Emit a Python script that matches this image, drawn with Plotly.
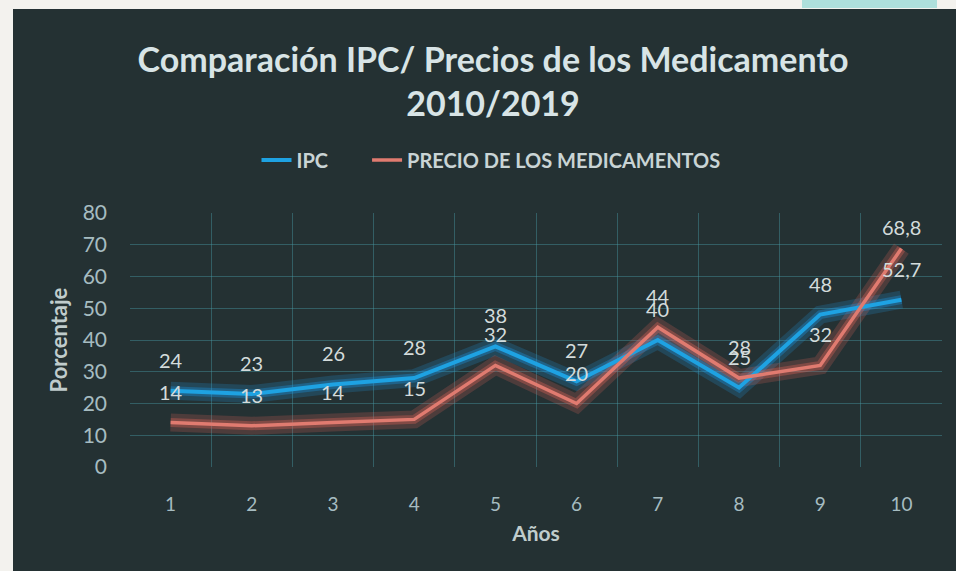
import plotly.graph_objects as go

# ---- data ----
years = [1, 2, 3, 4, 5, 6, 7, 8, 9, 10]
ipc = [24, 23, 26, 28, 38, 27, 40, 25, 48, 52.7]
precio = [14, 13, 14, 15, 32, 20, 44, 28, 32, 68.8]
y_ticks = [0, 10, 20, 30, 40, 50, 60, 70, 80]

title_text = "Comparación IPC/ Precios de los Medicamento<br>2010/2019"
name_ipc = "IPC"
name_precio = "PRECIO DE LOS MEDICAMENTOS"

# ---- layout geometry (pixels) ----
W, H = 956, 571
L, R, T, B = 130, 14, 213, 104
PW, PH = W - L - R, H - T - B


def px_x(p):
    return (p - L) / PW


def px_y(p):
    return (H - B - p) / PH


def fmt(v):
    s = f"{v:g}"
    return s.replace(".", ",")


BG = "#243133"
BLUE = "#1ea2e2"
RED = "#e07b70"
LABEL = "#d3dbdb"
TICK = "#a6bcc1"
GRID = "rgba(70,150,160,0.45)"
FONT = "Lato"
PAD = "\u00a0" * 7  # extra spacing after first legend entry

fig = go.Figure()

# glow layers
fig.add_trace(go.Scatter(x=years, y=ipc, mode="lines", showlegend=False, hoverinfo="skip",
                         line=dict(color="rgba(30,150,225,0.22)", width=18)))
fig.add_trace(go.Scatter(x=years, y=precio, mode="lines", showlegend=False, hoverinfo="skip",
                         line=dict(color="rgba(225,100,90,0.22)", width=18)))
fig.add_trace(go.Scatter(x=years, y=ipc, mode="lines", showlegend=False, hoverinfo="skip",
                         line=dict(color="rgba(30,150,225,0.35)", width=9)))
fig.add_trace(go.Scatter(x=years, y=precio, mode="lines", showlegend=False, hoverinfo="skip",
                         line=dict(color="rgba(225,100,90,0.35)", width=9)))
# main lines
fig.add_trace(go.Scatter(x=years, y=ipc, mode="lines", name=name_ipc + PAD,
                         line=dict(color=BLUE, width=4)))
fig.add_trace(go.Scatter(x=years, y=precio, mode="lines", name=name_precio,
                         line=dict(color=RED, width=3.5)))

# data labels
for series in (ipc, precio):
    for xv, yv in zip(years, series):
        shift = 31 if yv < 65 else 22
        fig.add_annotation(x=xv, y=yv, text=fmt(yv), showarrow=False, yshift=shift,
                           font=dict(family=FONT, size=20, color=LABEL))

# background decorations (photo edges)
shapes = [
    dict(type="rect", xref="paper", yref="paper", x0=px_x(-5), x1=px_x(W + 5),
         y0=px_y(0 - 5), y1=px_y(9), fillcolor="#f3f2ee", line=dict(width=0), layer="below"),
    dict(type="rect", xref="paper", yref="paper", x0=px_x(-5), x1=px_x(13),
         y0=px_y(H + 5), y1=px_y(-5), fillcolor="#f3f2ee", line=dict(width=0), layer="below"),
    dict(type="rect", xref="paper", yref="paper", x0=px_x(802), x1=px_x(937),
         y0=px_y(-5), y1=px_y(8), fillcolor="#aee0dc", line=dict(width=0), layer="below"),
]

fig.update_layout(
    width=W, height=H,
    margin=dict(l=L, r=R, t=T, b=B, pad=0),
    paper_bgcolor=BG, plot_bgcolor=BG,
    shapes=shapes,
    title=dict(text=title_text, x=493 / W, xanchor="center", xref="container",
               y=1 - 72 / H, yanchor="middle", yref="container",
               font=dict(family=FONT, size=34, color="#d8e4e6", weight="bold")),
    legend=dict(orientation="h", x=px_x(491), xanchor="center", y=px_y(160), yanchor="middle",
                font=dict(family=FONT, size=20, color="#c9d4d5", weight="bold"),
                bgcolor="rgba(0,0,0,0)", itemwidth=30, tracegroupgap=0),
    xaxis=dict(range=[0.5, 10.5], tickvals=years, ticktext=[str(v) for v in years],
               showgrid=False, zeroline=False, showline=False, ticks="",
               ticklabelstandoff=24,
               tickfont=dict(family=FONT, size=19, color=TICK),
               minor=dict(tickvals=[v + 0.5 for v in [0] + years], showgrid=True,
                          gridcolor=GRID, gridwidth=1, ticks=""),
               title=dict(text="Años", standoff=12,
                          font=dict(family=FONT, size=21, color="#c0cccc", weight="bold"))),
    yaxis=dict(range=[0, 80], tickvals=y_ticks, showgrid=True, gridcolor=GRID, gridwidth=1,
               zeroline=False, showline=False, ticks="", ticklabelstandoff=22,
               tickfont=dict(family=FONT, size=21, color=TICK),
               title=dict(text="Porcentaje", standoff=8,
                          font=dict(family=FONT, size=22, color="#c0cccc", weight="bold"))),
    showlegend=True,
)

fig.write_html("out.html", config={"displayModeBar": False},
               post_script="document.body.style.margin='0';")
